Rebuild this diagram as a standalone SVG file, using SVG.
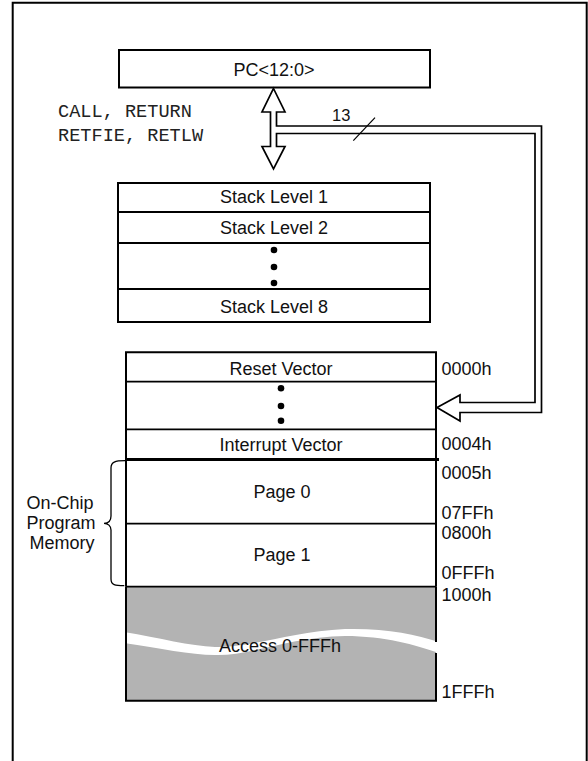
<svg xmlns="http://www.w3.org/2000/svg" width="588" height="761" viewBox="0 0 588 761">
<style>
.box{fill:#fff;stroke:#000;stroke-width:2}
.div{stroke:#000;stroke-width:1.8;fill:none}
.t{font-family:"Liberation Sans",Arial,sans-serif;font-size:18px;fill:#111}
.c{text-anchor:middle}
.m{font-family:"Liberation Mono","Courier New",monospace;font-size:18.6px;fill:#222}
.dot{fill:#000}
</style>
<rect width="588" height="761" fill="#fff"/>
<g id="frame"><path d="M12.7,761 V2.7 H586.7 V761" fill="none" stroke="#000" stroke-width="2"/></g>

<g id="pc">
<rect class="box" x="119" y="50" width="311" height="37.5"/>
<text class="t c" x="274" y="75.7">PC&lt;12:0&gt;</text>
</g>

<g id="instr">
<text class="m" x="58" y="117">CALL, RETURN</text>
<text class="m" x="58" y="141">RETFIE, RETLW</text>
</g>

<g id="stack">
<rect class="box" x="118" y="183" width="312" height="139"/>
<path class="div" d="M118,212H430M118,243H430M118,289H430"/>
<text class="t c" x="274" y="203.3">Stack Level 1</text>
<text class="t c" x="274" y="234">Stack Level 2</text>
<circle class="dot" cx="274" cy="250" r="3.3"/>
<circle class="dot" cx="274" cy="267" r="3.3"/>
<circle class="dot" cx="274" cy="283" r="3.3"/>
<text class="t c" x="274" y="312.7">Stack Level 8</text>
</g>

<g id="memory">
<rect x="126" y="586.7" width="310" height="114" fill="#b3b3b3"/>
<path d="M124,632 C160,638 190,646 215,647 C250,648 290,632 345,629 C385,628 415,634 439,642 L439,653 C415,645 385,636 345,636 C290,637 250,656 215,655 C190,655 160,648 124,643 Z" fill="#fff"/>
<path d="M126,632V700.7H436V653M436,642V586.7M126,643V700.7" fill="none" stroke="#000" stroke-width="2"/>
<path d="M126,586.7V632" fill="none" stroke="#000" stroke-width="2"/>
<path d="M126,586.7V352.3H436V586.7" fill="none" stroke="#000" stroke-width="2"/>
<path class="div" d="M126,381.7H436M126,429.3H436M126,523.7H436M126,586.7H436"/>
<path d="M126,459.5H439" stroke="#000" stroke-width="3"/>
<text class="t c" x="281" y="374.5">Reset Vector</text>
<circle class="dot" cx="281" cy="388.3" r="3.3"/>
<circle class="dot" cx="281" cy="406" r="3.3"/>
<circle class="dot" cx="281" cy="420.7" r="3.3"/>
<text class="t c" x="281" y="451">Interrupt Vector</text>
<text class="t c" x="282" y="498">Page 0</text>
<text class="t c" x="282" y="561">Page 1</text>
<text class="t c" x="280" y="652">Access 0-FFFh</text>
</g>

<g id="addresses">
<text class="t" x="441.5" y="375">0000h</text>
<text class="t" x="441.5" y="450">0004h</text>
<text class="t" x="441.5" y="479">0005h</text>
<text class="t" x="441.5" y="519">07FFh</text>
<text class="t" x="441.5" y="539">0800h</text>
<text class="t" x="441.5" y="579">0FFFh</text>
<text class="t" x="441.5" y="600.5">1000h</text>
<text class="t" x="441.5" y="698">1FFFh</text>
</g>

<g id="onchip">
<path d="M125,460.7 C115,460.7 111,462 111,468 V516 C111,521 108,523.3 104,523.3 C108,523.3 111,526 111,530 V579 C111,585 115,585.7 124.3,585.7" fill="none" stroke="#000" stroke-width="1.3"/>
<text class="t c" x="60" y="509">On-Chip</text>
<text class="t c" x="61" y="529">Program</text>
<text class="t c" x="62" y="549">Memory</text>
</g>

<g id="connectors">
<path d="M273.5,88.5 L285,112 L276.5,112 L276.5,126 L541.5,126 L541.5,412.5 L460,412.5 L460,421 L437,407.5 L460,395 L460,402.5 L535,402.5 L535,133.5 L276.5,133.5 L276.5,146.5 L285,146.5 L273.5,169 L262,146.5 L270.5,146.5 L270.5,112 L262,112 Z" fill="#fff" stroke="#000" stroke-width="1.7" stroke-linejoin="miter"/>
<line x1="375" y1="117.7" x2="353.3" y2="140.7" stroke="#000" stroke-width="1.2"/>
<text class="t" x="332" y="120.7" style="font-size:16.5px">13</text>
</g>
</svg>
